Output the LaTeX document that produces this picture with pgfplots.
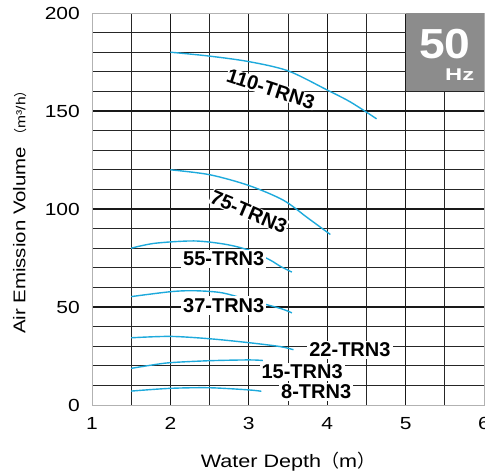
\documentclass[border=0pt]{standalone}
\usepackage{pgfplots}
\pgfplotsset{compat=1.18}
\usepackage{fontspec}
\setmainfont[FakeStretch=1.2]{Liberation Sans}
\newfontfamily\lab{Liberation Sans}
\newfontfamily\cjk{Noto Sans CJK JP}
\definecolor{curve}{RGB}{30,170,220}
\definecolor{hzbox}{RGB}{140,140,140}
\pgfplotsset{tc/.style={curve, solid, line width=1.4pt, smooth, tension=0.5, mark=none}}
\begin{document}
\begin{tikzpicture}
\begin{axis}[
  width=392pt, height=392pt, scale only axis,
  xmin=1, xmax=6, ymin=0, ymax=200,
  xtick={2,3,4,5}, ytick={50,100,150},
  extra x ticks={1,6}, extra y ticks={0,200},
  extra tick style={grid=none},
  minor xtick={1.5,2.5,3.5,4.5,5.5},
  minor ytick={10,20,30,40,60,70,80,90,110,120,130,140,160,170,180,190},
  grid=both,
  major grid style={black!90, line width=1.05pt},
  minor grid style={black!85, line width=0.8pt},
  major tick length=0pt, minor tick length=0pt,
  axis line style={black!30, line width=0.6pt},
  /pgf/number format/assume math mode=true,
  tick label style={font=\fontsize{17.5}{18}\selectfont, inner sep=0pt},
  yticklabel style={xshift=-12pt},
  xticklabel style={yshift=-12pt},
  xlabel={Water Depth{\cjk （}m{\cjk ）}},
  xlabel style={font=\fontsize{18}{20}\selectfont, at={(axis description cs:0.5,-0.144)}, anchor=center},
  ylabel={Air Emission Volume {\fontsize{13}{14}\selectfont{\cjk （}m³/h{\cjk ）}}},
  ylabel style={font=\fontsize{17}{19}\selectfont, at={(axis description cs:-0.184,0.5)}, anchor=center},
  clip=false,
]
\fill[hzbox] (axis cs:5,160) rectangle (axis cs:6,200);
\node[text=white, font=\lab\bfseries\addfontfeature{FakeStretch=1.1}\fontsize{42}{42}\selectfont] at (axis cs:5.5,184) {50};
\node[text=white, font=\lab\bfseries\addfontfeature{FakeStretch=1.4}\fontsize{17}{17}\selectfont] at (axis cs:5.69,168.4) {Hz};

% 110-TRN3
\addplot[tc] coordinates {(2,180) (2.5,178) (3,175.2) (3.5,170.5) (4,160.7) (4.3,154.5) (4.63,146)};
% 75-TRN3
\addplot[tc] coordinates {(2,120) (2.5,117.5) (3,112) (3.44,104.5) (3.75,95.5) (4.04,87)};
% 55-TRN3
\addplot[tc] coordinates {(1.5,80) (1.8,82.5) (2.3,83.7) (2.7,82) (3,79) (3.27,74) (3.4,70.8) (3.55,67.8)};
% 37-TRN3
\addplot[tc] coordinates {(1.5,55.3) (2,57.8) (2.3,58.3) (2.65,57.3) (3,53.6) (3.4,49.3) (3.55,47)};
% 22-TRN3
\addplot[tc] coordinates {(1.5,34.3) (2,35) (2.5,33.8) (3,31.8) (3.4,29.8) (3.57,28.2)};
% 15-TRN3
\addplot[tc] coordinates {(1.5,18.7) (1.75,20.3) (2,21.6) (2.5,22.6) (3,23) (3.18,22.7)};
% 8-TRN3
\addplot[tc] coordinates {(1.5,7.1) (2,8.5) (2.5,8.8) (3,7.7) (3.16,7)};

\begin{scope}[every node/.style={font=\lab\bfseries\fontsize{20}{20}\selectfont, fill=white, inner sep=2pt}]
\node[rotate=-18, inner sep=0.5pt] at (axis cs:3.28,161.3) {110-TRN3};
\node[rotate=-23, inner sep=0.5pt] at (axis cs:3.0,98.5) {75-TRN3};
\node at (axis cs:2.68,74.6) {55-TRN3};
\node at (axis cs:2.68,50.8) {37-TRN3};
\node at (axis cs:4.29,28) {22-TRN3};
\node at (axis cs:3.68,17) {15-TRN3};
\node at (axis cs:3.86,6.8) {8-TRN3};
\end{scope}
\end{axis}
\pgfresetboundingbox
\path[use as bounding box] ([xshift=-92pt,yshift=-71pt]current axis.south west) rectangle ([xshift=1pt,yshift=13pt]current axis.north east);
\end{tikzpicture}
\end{document}
